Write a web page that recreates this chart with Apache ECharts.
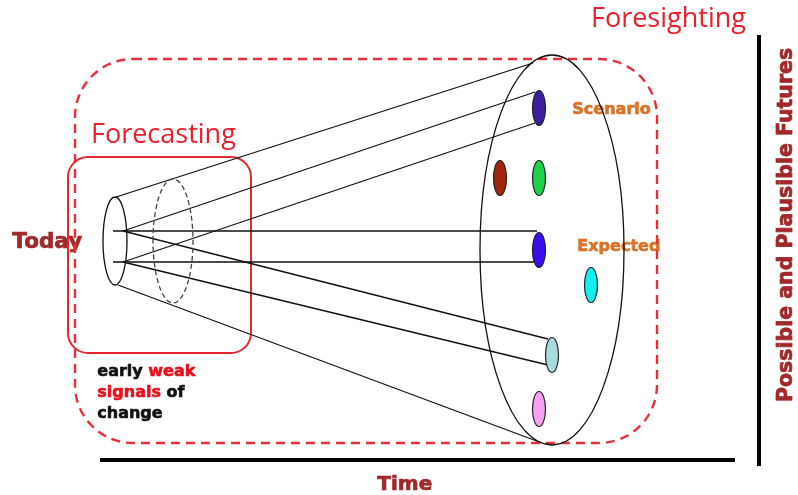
<!DOCTYPE html>
<html><head><meta charset="utf-8">
<script src="https://cdn.jsdelivr.net/npm/echarts@6/dist/echarts.min.js"></script>
<style>html,body{margin:0;padding:0;background:#fff}#c{width:798px;height:495px}</style>
</head><body><div id="c"></div>
<script>
// ---- diagram data (drawing units; x = time, y = spread of futures) ----
const frames = [            // [x, y, width, height, cornerRadius, kind]
  [75, 59, 582, 384, 58, 'foresight'],
  [68, 157, 183, 196, 20, 'forecast']
];
const coneRays = [          // [x1, y1, x2, y2]
  [116, 197, 533, 63], [118, 285, 542, 443],
  [113, 231, 537, 231], [113, 262, 537, 262],
  [123, 231, 535, 92], [123, 262, 535, 123],
  [123, 231, 548, 339], [123, 262, 548, 365]
];
const coneSections = [      // [cx, cy, rx, ry, kind]
  [115, 241, 12, 44, 'solid'],
  [173, 241, 20, 62, 'dashed'],
  [552, 250, 72, 195, 'solid']
];
const futureNames = ['f1', 'f2', 'f3', 'f4', 'f5', 'f6', 'f7'];
const futureX = [539, 500, 539, 539, 591, 552, 539];
const futureY = [108, 178, 178, 250, 285, 355, 409];
const futureColors = ['#3c1e9c', '#a0250c', '#1ed24a', '#3a0cf0', '#10f0f0', '#a8dadf', '#f8a2f2'];
const axisLines = [         // [x1, y1, x2, y2]
  [100, 460, 735, 460],
  [759, 35, 759, 466]
];
const texts = {
  forecasting: 'Forecasting',
  foresighting: 'Foresighting',
  today: 'Today',
  time: 'Time',
  futures: 'Possible and Plausible Futures',
  scenario: 'Scenario',
  expected: 'Expected'
};

const DARKRED = '#a1292b', ORANGE = '#d9732b', RED = '#e8202a';

const chart = echarts.init(document.getElementById('c'));

function lineItem(params, api) {
  const a = api.coord([api.value(0), api.value(1)]);
  const b = api.coord([api.value(2), api.value(3)]);
  return { type: 'line', shape: { x1: a[0], y1: a[1], x2: b[0], y2: b[1] },
           style: { stroke: '#111', lineWidth: 1.3 } };
}
function boldStyle(text, fill, size, extra) {
  return Object.assign({ text, fill, stroke: fill, lineWidth: 0.7,
    font: 'bold ' + size + 'px "DejaVu Sans"' }, extra || {});
}

chart.setOption({
  animation: false,
  grid: { left: 0, right: 0, top: 0, bottom: 0 },
  xAxis: { type: 'value', min: 0, max: 798, show: false },
  yAxis: { type: 'value', min: 0, max: 495, inverse: true, show: false },
  graphic: [
    { type: 'text', z: 0, left: 91, top: 122, style: { text: texts.forecasting, fill: RED, font: '27px "Open Sans"' } },
    { type: 'text', z: 0, left: 591, top: 6, style: { text: texts.foresighting, fill: RED, font: '27px "Open Sans"' } },
    { type: 'text', z: 0, left: 12, top: 231, style: boldStyle(texts.today, DARKRED, 21.5) },
    { type: 'text', z: 0, left: 377, top: 474, style: boldStyle(texts.time, DARKRED, 20) },
    { type: 'text', z: 0, left: 572, top: 101, style: boldStyle(texts.scenario, ORANGE, 16) },
    { type: 'text', z: 0, left: 577, top: 238, style: boldStyle(texts.expected, ORANGE, 16) },
    { type: 'text', z: 0, x: 776, y: 402, rotation: Math.PI / 2,
      style: boldStyle(texts.futures, DARKRED, 20.5, { textVerticalAlign: 'top' }) },
    { type: 'text', z: 0, left: 97, top: 364,
      style: {
        text: '{k|early }{r|weak}\n{r|signals }{k|of}\n{k|change}',
        rich: {
          k: { fill: '#111', stroke: '#111', lineWidth: 0.6, font: 'bold 16px "DejaVu Sans"', lineHeight: 21 },
          r: { fill: '#e8101a', stroke: '#e8101a', lineWidth: 0.6, font: 'bold 16px "DejaVu Sans"', lineHeight: 21 }
        }
      } }
  ],
  series: [
    { type: 'custom', silent: true, z: 3, data: frames,
      renderItem(params, api) {
        const p = api.coord([api.value(0), api.value(1)]);
        const s = api.size([api.value(2), api.value(3)]);
        const dashed = frames[params.dataIndex][5] === 'foresight';
        return { type: 'rect', shape: { x: p[0], y: p[1], width: s[0], height: s[1], r: api.value(4) },
          style: { fill: 'none', stroke: dashed ? '#e8303c' : '#e32830', lineWidth: dashed ? 2.4 : 2,
                   lineDash: dashed ? [9, 6] : null } };
      } },
    { type: 'custom', silent: true, z: 4, data: coneRays, renderItem: lineItem },
    { type: 'custom', silent: true, z: 5, data: coneSections,
      renderItem(params, api) {
        const c = api.coord([api.value(0), api.value(1)]);
        const r = api.size([api.value(2), api.value(3)]);
        const dashed = coneSections[params.dataIndex][4] === 'dashed';
        return { type: 'ellipse', shape: { cx: c[0], cy: c[1], rx: r[0], ry: r[1] },
          style: { fill: 'none', stroke: dashed ? '#444' : '#111', lineWidth: 1.3,
                   lineDash: dashed ? [5, 3] : null } };
      } },
    { type: 'custom', silent: true, z: 6,
      data: futureNames.map((n, i) => ({ name: n, value: [futureX[i], futureY[i]] })),
      renderItem(params, api) {
        const c = api.coord([api.value(0), api.value(1)]);
        const r = api.size([6.5, 17.5]);
        return { type: 'ellipse', shape: { cx: c[0], cy: c[1], rx: r[0], ry: r[1] },
          style: { fill: futureColors[params.dataIndex], stroke: '#222', lineWidth: 1.2 } };
      } },
    { type: 'custom', silent: true, z: 6, data: axisLines,
      renderItem(params, api) {
        const a = api.coord([api.value(0), api.value(1)]);
        const b = api.coord([api.value(2), api.value(3)]);
        return { type: 'line', shape: { x1: a[0], y1: a[1], x2: b[0], y2: b[1] },
                 style: { stroke: '#000', lineWidth: 4 } };
      } }
  ]
});
</script></body></html>
